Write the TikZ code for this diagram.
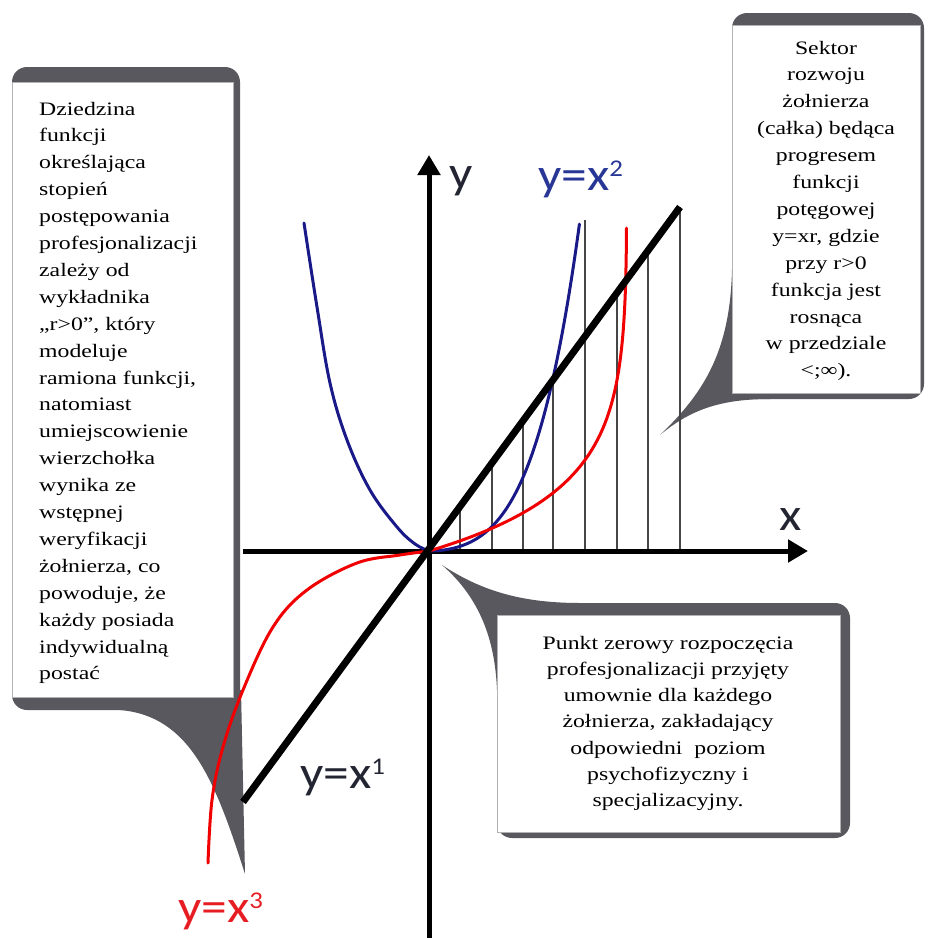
\documentclass[tikz,border=0pt]{standalone}
\usepackage{fontspec}
\setmainfont{Liberation Serif}[FakeStretch=1.25]
\newfontfamily\labfont{Carlito}[FakeStretch=1.12]
\usetikzlibrary{arrows.meta}
\definecolor{cgray}{RGB}{88,88,94}
\definecolor{cblue}{RGB}{25,25,135}
\definecolor{cred}{RGB}{240,0,0}
\definecolor{lblue}{RGB}{40,55,150}
\definecolor{lred}{RGB}{230,30,35}
\definecolor{ldark}{RGB}{35,38,50}
\definecolor{hatchgray}{RGB}{70,70,70}
\newcommand\myexp[1]{\raisebox{14pt}{\fontsize{24}{24}\selectfont #1}}
\begin{document}
\begin{tikzpicture}[x=1pt,y=-1pt,
  boxtext/.style={inner sep=0pt, font=\fontsize{19}{19}\selectfont},
  lab/.style={inner sep=0pt, anchor=base west, font=\labfont\fontsize{46}{46}\selectfont},
  whitebox/.style={draw=gray!60, line width=1, fill=white},
  hatchline/.style={hatchgray, line width=2},
  curve/.style={line width=3, line join=round, line cap=round},
  axis/.style={line width=5, -{Triangle[length=20pt,width=22pt]}}]
\useasboundingbox (0,0) rectangle (928,938);

% left callout
\fill[cgray, rounded corners=15] (12,67) rectangle (240,710);
\fill[cgray] (241,690) -- (245,874) .. controls (215,780) and (190,716) .. (120,710) -- (120,690) -- cycle;
\draw[whitebox] (12,82) rectangle (233,697);
\foreach \t [count=\i] in {Dziedzina, funkcji, określająca, stopień, postępowania, profesjonalizacji, zależy od, wykładnika, {„r>0”, który}, modeluje, {ramiona funkcji,}, natomiast, umiejscowienie, wierzchołka, wynika ze, wstępnej, weryfikacji, {żołnierza, co}, {powoduje, że}, każdy posiada, indywidualną, postać}
  \node[boxtext, anchor=base west] (L\i) at (39,{115+(\i-1)*26.9}) {\t};

% top right callout
\fill[cgray, rounded corners=15] (732,13) rectangle (924,399);
\fill[cgray] (745,270) -- (732,270) .. controls (730,350) and (705,392) .. (660,435) .. controls (690,410) and (720,399) .. (770,399) -- (770,380) -- cycle;
\draw[whitebox] (732,25) rectangle (920,393);
\foreach \t [count=\i] in {Sektor, rozwoju, żołnierza, (całka) będąca, progresem, funkcji, potęgowej, {y=xr, gdzie}, przy r>0, funkcja jest, rosnąca, w przedziale, <;∞).}
  \node[boxtext, anchor=base] (R\i) at (826,{54+(\i-1)*26.9}) {\t};

% bottom right callout
\fill[cgray, rounded corners=15] (497,603) rectangle (850,838);
\fill[cgray] (580,603) -- (580,625) -- (510,690) -- (497,690) .. controls (495,640) and (480,598) .. (442,565) .. controls (480,590) and (520,603) .. (580,603) -- cycle;
\draw[whitebox] (497,615) rectangle (840,832);
\foreach \t [count=\i] in {Punkt zerowy rozpoczęcia, profesjonalizacji przyjęty, umownie dla każdego, {żołnierza, zakładający}, odpowiedni\ \ poziom, psychofizyczny i, specjalizacyjny.}
  \node[boxtext, anchor=base] (B\i) at (668,{649+(\i-1)*26.3}) {\t};

% hatch lines
\foreach \xx/\yy in {460/506.5, 492/463, 523/420.8, 553/379.9, 585/220, 617/292.8, 648/250.6, 680/207}
  \draw[hatchline] (\xx,551) -- (\xx,\yy);

% axes
\coordinate (O) at (429,551);
\coordinate (xs) at (243,551);
\coordinate (xe) at (808,551);
\coordinate (ys) at (429,938);
\coordinate (ye) at (429,155);
\draw[axis] (xs) -- (xe);
\draw[axis] (ys) -- (ye);

% blue y=x^2
\draw[cblue, curve] plot[smooth, tension=0.6] coordinates {(304,223) (317,307) (330,383) (347,440) (370,490) (397,527) (415,544) (429,551)};
\draw[cblue, curve] plot[domain=0:1.505, samples=80, variable=\u] ({429+100*\u},{551-(44.2*\u*\u+44.3*\u*\u*\u*\u)});
% red y=x^3
\draw[cred, curve] plot[smooth, tension=0.6] coordinates {(208,863) (212,800) (223,747) (243,690) (273,627) (307,590) (357,563) (400,555) (429,551)};
\draw[cred, curve] plot[domain=0:323, samples=90, variable=\t] ({429+200*(1-exp(-\t/60))-0.00002*\t*\t}, {551-\t});
% y=x
\coordinate (la) at (243,802);
\coordinate (lb) at (680,207);
\draw[line width=7] (la) -- (lb);

% labels
\node[lab, text=ldark] (ylab) at (449,188) {y};
\node[lab, text=ldark] (xlab) at (779,530) {x};
\node[lab, text=lblue] (lab2) at (538,190) {y=x\myexp{2}};
\node[lab, text=ldark] (lab1) at (300,788) {y=x\myexp{1}};
\node[lab, text=lred] (lab3) at (178,922) {y=x\myexp{3}};
\end{tikzpicture}
\end{document}
